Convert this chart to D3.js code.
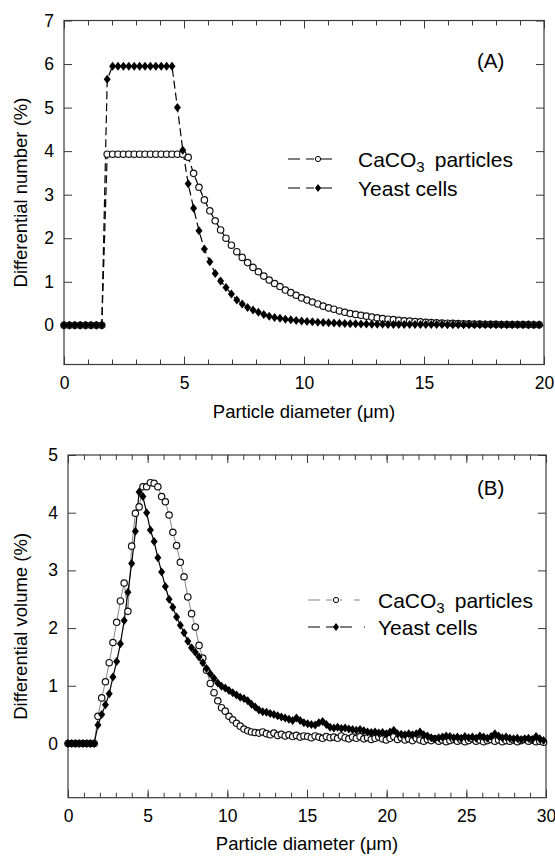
<!DOCTYPE html>
<html>
<head>
<meta charset="utf-8">
<script src="https://cdn.jsdelivr.net/npm/d3@7"></script>
<style>
  body { margin: 0; background: #fff; }
  svg { display: block; font-family: "Liberation Sans", Arial, sans-serif; }
</style>
</head>
<body>
<svg id="chart" width="555" height="856"></svg>
<script>
// bin width of the counter channels (um)
const binStepA = 0.225;
const binStepB = 0.235;

// (A) differential number (%)
const caco3Number = [
  0, 0, 0, 0, 0, 0, 0, 0,
  3.93, 3.93, 3.93, 3.93, 3.93, 3.93, 3.93, 3.93, 3.93, 3.93, 3.93, 3.93, 3.93, 3.93, 3.93,
  3.86, 3.49, 3.17, 2.88, 2.63, 2.40, 2.19, 2.00, 1.84, 1.69, 1.56, 1.44, 1.33, 1.23, 1.13, 1.04,
  0.96, 0.89, 0.81, 0.75, 0.69, 0.63, 0.58, 0.535, 0.49, 0.44, 0.40, 0.37, 0.33, 0.30, 0.27,
  0.25, 0.23, 0.21, 0.19, 0.17, 0.155, 0.14, 0.13, 0.115, 0.105, 0.095, 0.085, 0.078, 0.07,
  0.064, 0.058, 0.053, 0.048, 0.044, 0.04, 0.037, 0.034, 0.031, 0.028, 0.026, 0.024, 0.022,
  0.02, 0.019, 0.018, 0.017, 0.016, 0.015, 0.014, 0.013
];
const yeastNumber = [
  0, 0, 0, 0, 0, 0, 0, 0,
  5.65,
  5.95, 5.95, 5.95, 5.95, 5.95, 5.95, 5.95, 5.95, 5.95, 5.95, 5.95, 5.95,
  5.0, 4.02,
  3.25, 2.69, 2.17, 1.75, 1.46, 1.19, 1.02, 0.87, 0.72, 0.58, 0.49, 0.41, 0.35, 0.30, 0.25, 0.21, 0.18, 0.16,
  0.14, 0.125, 0.11, 0.10, 0.09, 0.08, 0.072, 0.065, 0.058, 0.052, 0.047, 0.042, 0.038, 0.034,
  0.031, 0.028, 0.026, 0.024, 0.022,
  0.021, 0.02, 0.02, 0.019, 0.019, 0.018, 0.018, 0.017, 0.017, 0.016, 0.016, 0.015, 0.015, 0.015,
  0.014, 0.014, 0.014, 0.013, 0.013, 0.013, 0.012, 0.012, 0.012, 0.012, 0.011, 0.011, 0.011, 0.011, 0.01
];

// (B) differential volume (%)
const caco3Volume = [
  0, 0, 0, 0, 0, 0, 0, 0,
  0.47, 0.79, 1.07, 1.40, 1.75, 2.10, 2.47, 2.78, 2.29, 3.42, 3.99, 4.10, 4.45, 4.45, 4.52, 4.51,
  4.45, 4.28, 4.19, 3.96, 3.66, 3.43, 3.14, 2.89, 2.54, 2.25, 2.02,
  1.70, 1.48, 1.27, 1.04, 0.88, 0.74, 0.62, 0.56, 0.47, 0.41, 0.35, 0.30, 0.25, 0.22, 0.20,
  0.19, 0.18, 0.20, 0.17, 0.15, 0.18, 0.14, 0.16, 0.13, 0.15,
  0.12, 0.14, 0.11, 0.13, 0.12, 0.10, 0.13, 0.11, 0.09, 0.12,
  0.10, 0.11, 0.09, 0.13, 0.10, 0.08, 0.11, 0.09, 0.12, 0.08,
  0.10, 0.07, 0.09, 0.11, 0.08, 0.06, 0.09, 0.12, 0.07, 0.10,
  0.06, 0.08, 0.05, 0.09, 0.06, 0.04, 0.07, 0.05, 0.08, 0.04,
  0.06, 0.03, 0.05, 0.07, 0.04, 0.06, 0.03, 0.05, 0.08, 0.04,
  0.06, 0.03, 0.05, 0.07, 0.04, 0.06, 0.03, 0.05, 0.04, 0.06,
  0.03, 0.05, 0.07, 0.04, 0.06, 0.03, 0.04, 0.02
];
const yeastVolume = [
  0, 0, 0, 0, 0, 0, 0, 0,
  0.32, 0.50, 0.67, 0.86, 1.15, 1.42, 1.73, 2.13, 2.62, 3.12, 3.68, 4.36, 4.28, 4.0, 3.70, 3.50,
  3.22, 2.97, 2.72, 2.50, 2.36, 2.19, 2.05,
  1.92, 1.77, 1.66, 1.58, 1.50, 1.40, 1.30, 1.21, 1.13, 1.05, 0.99, 0.96, 0.92, 0.88, 0.84, 0.80,
  0.78, 0.74, 0.68, 0.63, 0.58, 0.55,
  0.54, 0.52, 0.50, 0.48, 0.46, 0.44, 0.42, 0.40, 0.44, 0.40,
  0.36, 0.34, 0.33, 0.32, 0.36, 0.38, 0.33, 0.28, 0.27, 0.28,
  0.26, 0.27, 0.25, 0.24, 0.23, 0.24, 0.22, 0.20, 0.19, 0.20,
  0.18, 0.19, 0.17, 0.20, 0.23, 0.17, 0.16, 0.15, 0.17, 0.15,
  0.17, 0.20, 0.15, 0.13, 0.10, 0.08, 0.10, 0.11, 0.13, 0.12,
  0.10, 0.11, 0.09, 0.12, 0.10, 0.11, 0.09, 0.13, 0.11, 0.09,
  0.12, 0.17, 0.13, 0.10, 0.11, 0.09, 0.08, 0.09, 0.07, 0.08,
  0.09, 0.07, 0.12, 0.08, 0.05
];

const xTicksA = [0, 5, 10, 15, 20];
const yTicksA = [0, 1, 2, 3, 4, 5, 6, 7];
const xTicksB = [0, 5, 10, 15, 20, 25, 30];
const yTicksB = [0, 1, 2, 3, 4, 5];

const svg = d3.select('#chart');
const ink = '#000';
const frameColor = '#3a3a3a';
const intFmt = d3.format('d');

function diamond(w, h) {
  return 'M0,' + (-h / 2) + 'L' + (w / 2) + ',0L0,' + (h / 2) + 'L' + (-w / 2) + ',0Z';
}

function toPoints(values, step) {
  return values.map((v, i) => ({x: i * step, y: v}));
}

function styleAxis(g, size) {
  g.select('.domain').remove();
  g.selectAll('line').attr('stroke', frameColor).attr('stroke-width', 1);
  g.selectAll('text')
    .attr('fill', ink)
    .attr('font-size', size)
    .attr('font-family', '"Liberation Sans", Arial, sans-serif');
}

function drawPanel(p) {
  const g = svg.append('g');
  const x = d3.scaleLinear().domain(p.xDomain).range([p.left, p.right]);
  const y = d3.scaleLinear().domain(p.yDomain).range([p.bottom, p.top]);
  const minor = d3.range(p.xDomain[0], p.xDomain[1] + 1, 1);

  // minor ticks first, majors drawn over them
  g.append('g').attr('transform', 'translate(0,' + p.bottom + ')')
    .call(d3.axisBottom(x).tickValues(minor).tickSize(-5).tickSizeOuter(0).tickFormat(''))
    .call(a => styleAxis(a, 17.5));
  g.append('g').attr('transform', 'translate(0,' + p.top + ')')
    .call(d3.axisTop(x).tickValues(minor).tickSize(-5).tickSizeOuter(0).tickFormat(''))
    .call(a => styleAxis(a, 17.5));

  g.append('g').attr('transform', 'translate(0,' + p.bottom + ')')
    .call(d3.axisBottom(x).tickValues(p.xTicks).tickSize(-8).tickSizeOuter(0).tickPadding(12).tickFormat(intFmt))
    .call(a => styleAxis(a, 17.5));
  g.append('g').attr('transform', 'translate(0,' + p.top + ')')
    .call(d3.axisTop(x).tickValues(p.xTicks).tickSize(-8).tickSizeOuter(0).tickFormat(''))
    .call(a => styleAxis(a, 17.5));
  g.append('g').attr('transform', 'translate(' + p.left + ',0)')
    .call(d3.axisLeft(y).tickValues(p.yTicks).tickSize(-8).tickSizeOuter(0).tickPadding(10).tickFormat(intFmt))
    .call(a => styleAxis(a, 17.5));
  g.append('g').attr('transform', 'translate(' + p.right + ',0)')
    .call(d3.axisRight(y).tickValues(p.yTicks).tickSize(-8).tickSizeOuter(0).tickFormat(''))
    .call(a => styleAxis(a, 17.5));

  g.append('rect')
    .attr('x', p.left).attr('y', p.top)
    .attr('width', p.right - p.left).attr('height', p.bottom - p.top)
    .attr('fill', 'none').attr('stroke', frameColor).attr('stroke-width', 1.2);

  const line = d3.line().x(d => x(d.x)).y(d => y(d.y));
  const caco3 = toPoints(p.caco3, p.step);
  const yeast = toPoints(p.yeast, p.step);

  g.append('path').datum(caco3)
    .attr('d', line).attr('fill', 'none')
    .attr('stroke', p.caco3Line.color).attr('stroke-width', p.caco3Line.width)
    .attr('stroke-dasharray', p.caco3Line.dash);
  g.append('path').datum(yeast)
    .attr('d', line).attr('fill', 'none')
    .attr('stroke', p.yeastLine.color).attr('stroke-width', p.yeastLine.width)
    .attr('stroke-dasharray', p.yeastLine.dash);

  g.selectAll('.caco3-pt').data(caco3).enter()
    .append('circle').attr('class', 'caco3-pt')
    .attr('cx', d => x(d.x)).attr('cy', d => y(d.y)).attr('r', 3.2)
    .attr('fill', '#fff').attr('stroke', '#111').attr('stroke-width', 1.2);
  g.selectAll('.yeast-pt').data(yeast).enter()
    .append('path').attr('class', 'yeast-pt')
    .attr('transform', d => 'translate(' + x(d.x) + ',' + y(d.y) + ')')
    .attr('d', diamond(7, 9)).attr('fill', ink);

  // axis titles
  g.append('text')
    .attr('x', (p.left + p.right) / 2).attr('y', p.xTitleY)
    .attr('text-anchor', 'middle').attr('font-size', 18.5)
    .text('Particle diameter (μm)');
  g.append('text')
    .attr('transform', 'translate(27,' + (p.top + p.bottom) / 2 + ') rotate(-90)')
    .attr('text-anchor', 'middle').attr('font-size', 18.5)
    .text(p.yTitle);

  // panel label
  g.append('text').attr('x', p.tag.x).attr('y', p.tag.y)
    .attr('font-size', 20.5).text(p.tag.text);

  // legend
  const lg = g.append('g').attr('transform', 'translate(' + p.legend.x + ',' + p.legend.y + ')');
  const rows = [
    {kind: 'caco3', st: p.caco3LegendLine, dy: 0},
    {kind: 'yeast', st: p.yeastLine, dy: p.legend.gap}
  ];
  rows.forEach(r => {
    const row = lg.append('g').attr('transform', 'translate(0,' + r.dy + ')');
    row.append('line').attr('x1', 0).attr('x2', p.legend.lineLen).attr('y1', 0).attr('y2', 0)
      .attr('stroke', r.st.color).attr('stroke-width', r.st.width)
      .attr('stroke-dasharray', r.st.legendDash);
    if (r.kind === 'caco3') {
      row.append('circle').attr('cx', p.legend.mark).attr('cy', 0).attr('r', 2.6)
        .attr('fill', '#fff').attr('stroke', ink).attr('stroke-width', 1);
      const t = row.append('text').attr('x', p.legend.textX).attr('y', 7.5).attr('font-size', 21);
      t.append('tspan').text('CaCO');
      t.append('tspan').attr('font-size', 15).attr('dy', 5).text('3');
      t.append('tspan').attr('dy', -5).attr('dx', 10).text('particles');
    } else {
      row.append('path').attr('transform', 'translate(' + p.legend.mark + ',0)')
        .attr('d', diamond(6, 8)).attr('fill', ink);
      row.append('text').attr('x', p.legend.textX).attr('y', 7.5).attr('font-size', 21).text('Yeast cells');
    }
  });
}

drawPanel({
  left: 64, right: 544, top: 20.5, bottom: 364.5,
  xDomain: [0, 20], yDomain: [-0.9, 7],
  xTicks: xTicksA, yTicks: yTicksA,
  step: binStepA, caco3: caco3Number, yeast: yeastNumber,
  caco3Line: {color: ink, width: 1.2, dash: '8,4'},
  caco3LegendLine: {color: ink, width: 1.1, legendDash: '12,6,8,6,12'},
  yeastLine: {color: ink, width: 1.2, dash: '8,4', legendDash: '12,6,8,6,12'},
  xTitleY: 418, yTitle: 'Differential number (%)',
  tag: {x: 477, y: 68, text: '(A)'},
  legend: {x: 288, y: 159, gap: 29, lineLen: 50, mark: 30, textX: 70}
});

drawPanel({
  left: 68, right: 546, top: 455, bottom: 797.7,
  xDomain: [0, 30], yDomain: [-0.94, 5],
  xTicks: xTicksB, yTicks: yTicksB,
  step: binStepB, caco3: caco3Volume, yeast: yeastVolume,
  caco3Line: {color: '#777', width: 0.9, dash: null},
  caco3LegendLine: {color: '#777', width: 0.9, legendDash: '12,6,6,8,2'},
  yeastLine: {color: ink, width: 1.2, dash: null, legendDash: '12,6,8,6,12'},
  xTitleY: 850, yTitle: 'Differential volume (%)',
  tag: {x: 477, y: 495, text: '(B)'},
  legend: {x: 308, y: 600, gap: 27, lineLen: 57, mark: 28, textX: 70}
});
</script>
</body>
</html>
